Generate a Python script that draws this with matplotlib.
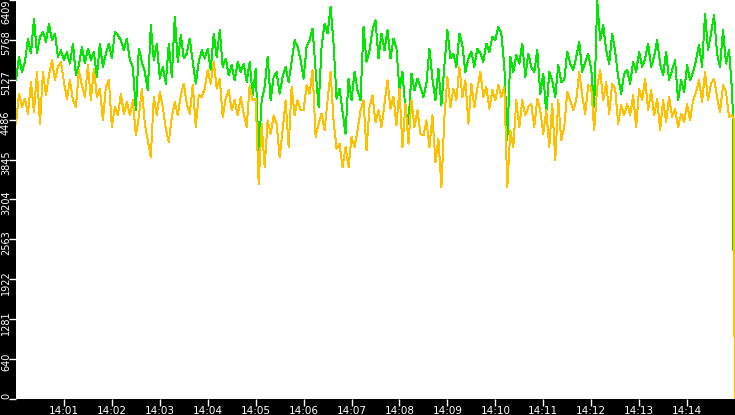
import numpy as np
import pandas as pd
import matplotlib
matplotlib.use("Agg")
import matplotlib.pyplot as plt
import matplotlib.dates as mdates
from matplotlib.transforms import blended_transform_factory, ScaledTranslation

# values, one every ~3.75 s from 14:00:00
green_vals = [
    5120, 5496, 5254, 5415, 5791, 5549, 6113, 5549, 5818, 5898,
    5737, 6032, 5764, 5871, 5496, 5603, 5442, 5576, 5388, 5710,
    5200, 5361, 5657, 5388, 5630, 5442, 5576, 5174, 5710, 5335,
    5549, 5710, 5469, 5898, 5844, 5764, 5603, 5791, 5442, 5335,
    4637, 5630, 5415, 5254, 4959, 6005, 5442, 5710, 5147, 5335,
    5066, 5710, 5174, 6140, 5415, 5844, 5469, 5549, 5791, 5415,
    5066, 5415, 5603, 5469, 5630, 5281, 5871, 5496, 5925, 5335,
    5469, 5200, 5361, 5120, 5415, 5254, 5388, 5093, 5415, 4878,
    5308, 3939, 4798, 5013, 5496, 4798, 5174, 5254, 4905, 5174,
    5335, 5093, 5415, 5764, 5657, 5442, 5147, 5657, 5764, 5952,
    5281, 4691, 5657, 6032, 5871, 6301, 5710, 4825, 4986, 4610,
    4261, 5147, 4798, 5254, 4959, 4798, 5979, 5415, 5603, 5925,
    6086, 5469, 5871, 5603, 5925, 5469, 5791, 5630, 4959, 5254,
    4637, 4422, 5227, 4959, 5147, 5013, 4852, 5066, 5630, 5147,
    4798, 5308, 4717, 5361, 5925, 5469, 5549, 5335, 5871, 5683,
    5254, 5469, 5576, 5335, 5630, 5549, 5415, 5710, 5576, 5818,
    5764, 5979, 5871, 5335, 4154, 5496, 5254, 5522, 5388, 5710,
    5174, 5549, 5335, 5254, 5603, 4905, 5227, 4583, 5254, 5120,
    4852, 5361, 5093, 5120, 5576, 5388, 5281, 5496, 5737, 5254,
    5415, 5549, 5308, 4691, 6400, 5764, 6005, 5603, 5388, 5871,
    5576, 5174, 4905, 5227, 5281, 5066, 5415, 5254, 5576, 5335,
    5469, 5710, 5335, 5496, 5764, 5388, 5200, 5576, 5120, 5281,
    5442, 4798, 5120, 4932, 5361, 5120, 5254, 5442, 5683, 5335,
    6193, 5603, 5871, 6167, 5549, 5335, 5925, 5388, 5603, 4959,
]

orange_vals = [
    4422, 4905, 4691, 4825, 4583, 5093, 4610, 5254, 4422, 5254,
    4878, 5200, 5442, 5120, 5335, 5415, 5093, 4825, 5120, 4798,
    4691, 5281, 5039, 4852, 5361, 4798, 5308, 4852, 4986, 4476,
    5013, 5120, 4369, 4691, 4556, 4905, 4583, 4771, 4556, 4798,
    4234, 4530, 4986, 4422, 4154, 3886, 4852, 4556, 4932, 4691,
    4342, 4127, 4530, 4771, 4556, 4878, 5066, 4744, 4583, 5039,
    4369, 4878, 4852, 4986, 5281, 5066, 5415, 4986, 5147, 4530,
    4825, 4959, 4637, 4798, 4556, 4852, 4583, 4369, 5039, 4798,
    4825, 3456, 4422, 3725, 4476, 4261, 4556, 4422, 3886, 4315,
    4798, 4047, 5013, 4556, 4798, 4637, 4637, 5039, 4905, 5281,
    4208, 4422, 4583, 4315, 4798, 5254, 4476, 4020, 4100, 3725,
    4047, 3725, 4208, 4047, 4315, 4637, 4798, 3993, 4691, 4878,
    4449, 4637, 4369, 4744, 5120, 4664, 4852, 4395, 4986, 4047,
    4744, 4100, 4798, 4369, 4637, 4261, 4234, 4476, 4047, 4556,
    3805, 4181, 3403, 4530, 5174, 4691, 4986, 4798, 5335, 4852,
    5120, 4422, 5066, 4691, 4986, 5254, 4852, 5013, 4664, 4959,
    4798, 5039, 4852, 5013, 3403, 4315, 4047, 4798, 4369, 4798,
    4556, 4691, 4744, 4369, 4825, 4637, 4261, 4637, 4047, 4744,
    3832, 4798, 4154, 4369, 4932, 4798, 4637, 4798, 5254, 4878,
    4583, 5039, 5013, 4315, 5013, 5281, 4798, 5093, 4583, 5066,
    4986, 4422, 4717, 4556, 4744, 4556, 4878, 4369, 4986, 4798,
    5147, 4637, 4959, 4556, 4825, 4315, 4798, 4449, 4852, 4530,
    4664, 4369, 4583, 4449, 4744, 4476, 4798, 4932, 5120, 4771,
    5254, 4798, 5066, 5147, 4852, 4610, 5039, 4932, 4530, 4556,
]

# last samples, where both series fall away
green_end = [4690, 2400]
orange_end = [4500, 0]

y_max = 6409
y_labels = ["0", "640", "1281", "1922", "2563", "3204",
            "3845", "4486", "5127", "5768", "6409"]

start = pd.Timestamp("2024-01-01 14:00:00")
t = pd.date_range(start, periods=len(green_vals), freq="3750ms")
t_green_end = pd.DatetimeIndex([start + pd.Timedelta(seconds=s) for s in (897.0, 898.0)])
t_orange_end = pd.DatetimeIndex([start + pd.Timedelta(seconds=s) for s in (898.5, 899.6)])

fig = plt.figure(figsize=(7.35, 4.15), dpi=100, facecolor="black")
ax = fig.add_axes([16 / 735, 16 / 415, 719 / 735, 399 / 415])
ax.set_facecolor("white")

ax.plot(t.append(t_green_end), green_vals + green_end, color="#00e800",
        lw=0.7, antialiased=False, zorder=2)
ax.plot(t.append(t_orange_end), orange_vals + orange_end, color="#ffc000",
        lw=0.7, antialiased=False, zorder=3)

ax.set_xlim(start, start + pd.Timedelta(minutes=15))
ax.set_ylim(0, y_max)

for s in ax.spines.values():
    s.set_visible(False)

ax.xaxis.set_major_locator(mdates.MinuteLocator(byminute=range(1, 15)))
ax.xaxis.set_major_formatter(mdates.DateFormatter("%H:%M"))
ax.tick_params(axis="x", colors="white", length=5, width=1, pad=0,
               labelsize=7.5)

# y ticks: marks from the axis, labels drawn by hand in the black strip
y_ticks = np.linspace(0, y_max, len(y_labels))
ax.set_yticks(y_ticks)
ax.tick_params(axis="y", colors="white", length=5, width=1, labelleft=False)

strip = blended_transform_factory(fig.transFigure, ax.transData)
shift = ScaledTranslation(0, -3 / 100, fig.dpi_scale_trans)
for i, (v, lbl) in enumerate(zip(y_ticks, y_labels)):
    if i == 0:
        va, tr = "bottom", strip
    elif i == len(y_labels) - 1:
        va, tr = "top", strip
    else:
        va, tr = "center", strip + shift
    ax.text(6 / 735, v, lbl, transform=tr, rotation=90, ha="center",
            va=va, color="white", fontsize=7, clip_on=False)

fig.savefig("out.png", dpi=100, facecolor="black")
